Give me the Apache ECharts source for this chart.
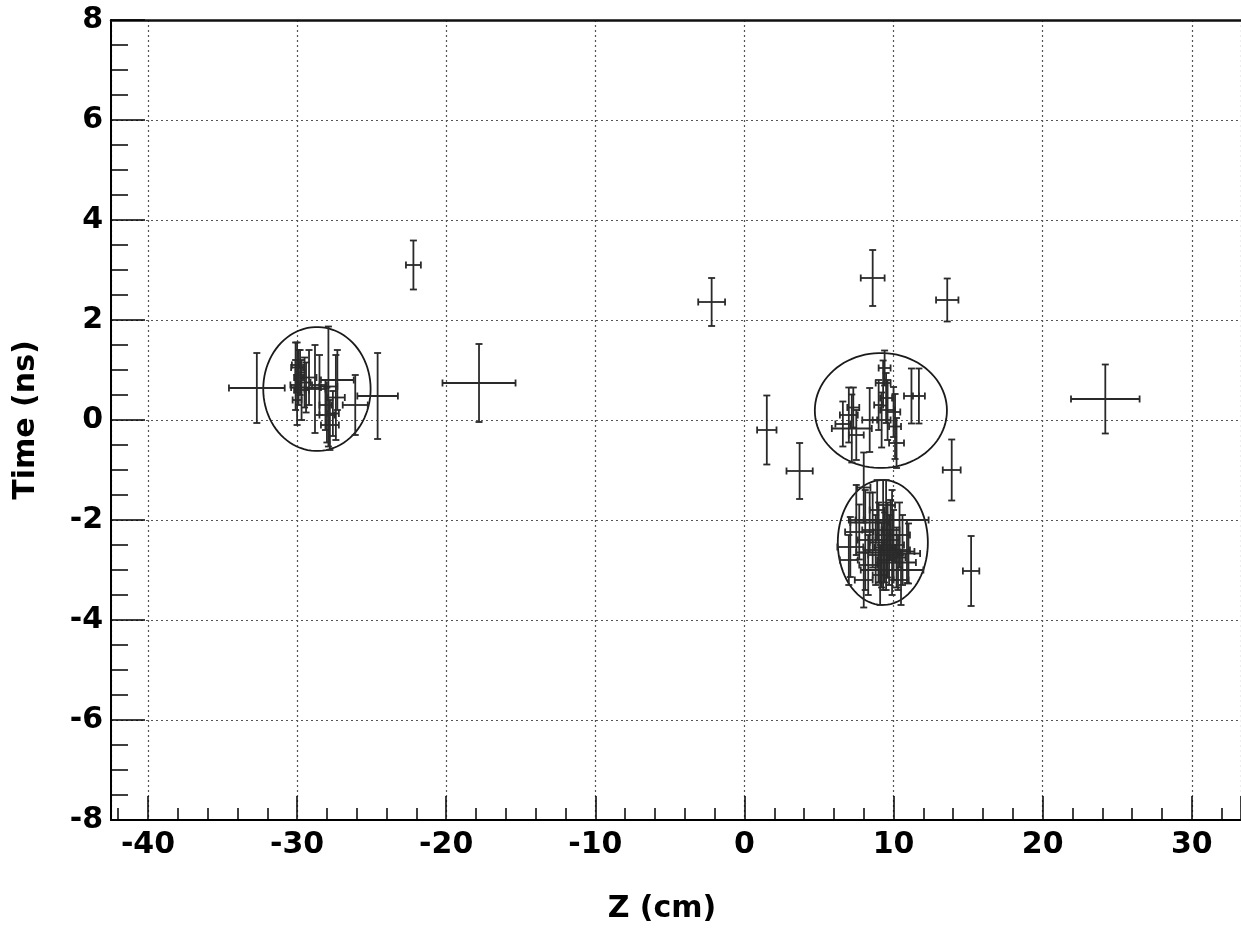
<!doctype html>
<html>
    <head>
        <meta charset="utf-8">
        <title>Time vs Z</title>
        <style>
            html, body { margin: 0; padding: 0; background: #fff; }
            #main { width: 1241px; height: 939px; }
        </style>
    </head>
    <body>
        <div id="main"></div>
        <script src="https://cdn.jsdelivr.net/npm/echarts@6/dist/echarts.min.js"></script>
        <script>
            // each point: [z, time, zErr, timeErr]
            var isolated = [
                [-22.2, 3.1, 0.5, 0.49],
                [-17.8, 0.74, 2.45, 0.78],
                [-32.7, 0.64, 1.87, 0.7],
                [-24.6, 0.48, 1.36, 0.86],
                [-2.2, 2.36, 0.9, 0.48],
                [8.6, 2.84, 0.8, 0.56],
                [13.6, 2.4, 0.75, 0.43],
                [24.2, 0.42, 2.3, 0.69],
                [1.5, -0.2, 0.65, 0.69],
                [3.7, -1.02, 0.88, 0.56],
                [13.9, -1.0, 0.6, 0.61],
                [15.2, -3.02, 0.55, 0.7],
                [8.0, -1.35, 0.45, 0.7]
            ];
            var clusterLeft = [
                [-30.0, 1.05, 0.4, 0.5],
                [-29.9, 0.85, 0.3, 0.55],
                [-30.1, 0.7, 0.35, 0.5],
                [-29.8, 0.95, 0.3, 0.45],
                [-30.0, 0.4, 0.3, 0.5],
                [-29.7, 0.6, 0.5, 0.6],
                [-29.5, 0.75, 0.4, 0.5],
                [-29.2, 0.85, 0.5, 0.55],
                [-28.8, 0.62, 0.7, 0.88],
                [-28.5, 0.7, 0.5, 0.6],
                [-27.9, 0.67, 0.6, 1.2],
                [-27.3, 0.8, 1.1, 0.6],
                [-27.4, 0.45, 0.6, 0.85],
                [-26.1, 0.3, 0.84, 0.6],
                [-28.1, 0.3, 0.4, 0.5],
                [-28.0, 0.1, 0.5, 0.55],
                [-27.8, -0.1, 0.6, 0.5],
                [-27.6, 0.13, 0.4, 0.45],
                [-30.1, 1.1, 0.25, 0.45],
                [-29.4, 0.65, 1.0, 0.5]
            ];
            var clusterUpper = [
                [6.6, -0.08, 0.5, 0.45],
                [7.0, 0.1, 0.6, 0.55],
                [7.2, -0.17, 1.34, 0.68],
                [7.3, 0.25, 0.4, 0.4],
                [7.5, -0.3, 0.5, 0.5],
                [8.4, 0.0, 0.5, 0.64],
                [9.4, 1.04, 0.4, 0.35],
                [9.3, 0.74, 0.5, 0.45],
                [9.5, 0.44, 0.4, 0.5],
                [9.2, 0.0, 0.6, 0.55],
                [9.6, 0.2, 0.5, 0.6],
                [10.1, -0.13, 0.4, 0.65],
                [10.0, 0.16, 0.45, 0.5],
                [10.2, -0.46, 0.5, 0.5],
                [11.2, 0.48, 0.5, 0.55],
                [11.7, 0.48, 0.4, 0.55],
                [9.0, 0.3, 0.3, 0.5]
            ];
            var clusterLower = [
                [7.1, -2.54, 0.87, 0.6],
                [7.7, -2.24, 0.95, 0.55],
                [7.5, -2.0, 0.5, 0.7],
                [8.1, -2.4, 0.5, 1.0],
                [8.3, -2.9, 0.6, 0.6],
                [8.6, -2.2, 0.7, 0.75],
                [8.8, -2.6, 0.8, 0.7],
                [9.0, -2.45, 0.6, 0.8],
                [9.2, -2.7, 0.9, 0.65],
                [9.3, -2.3, 0.5, 1.1],
                [9.4, -2.55, 0.7, 0.7],
                [9.5, -2.8, 0.6, 0.6],
                [9.6, -2.4, 0.8, 0.75],
                [9.7, -2.6, 0.5, 0.7],
                [9.8, -2.2, 0.6, 0.6],
                [9.9, -2.0, 2.45, 0.6],
                [9.9, -3.0, 2.1, 0.5],
                [10.0, -2.5, 0.7, 0.7],
                [10.2, -2.75, 0.6, 0.6],
                [10.4, -2.3, 0.7, 0.65],
                [10.6, -2.6, 0.5, 0.7],
                [10.9, -2.63, 0.5, 0.63],
                [11.0, -2.67, 0.78, 0.6],
                [8.0, -3.2, 0.6, 0.55],
                [9.1, -3.1, 0.5, 0.6],
                [10.5, -3.2, 0.5, 0.5],
                [8.9, -1.8, 0.5, 0.6],
                [9.5, -1.7, 0.6, 0.5],
                [7.0, -2.8, 0.6, 0.5],
                [8.4, -2.05, 1.3, 0.6],
                [10.3, -2.85, 1.2, 0.55],
                [9.0, -2.65, 1.5, 0.6]
            ];
            // ellipses: [centerZ, centerTime, radiusZ, radiusTime]
            var ellipses = [
                [-28.67, 0.62, 3.6, 1.24],
                [9.15, 0.19, 4.43, 1.15],
                [9.28, -2.45, 3.02, 1.25]
            ];

            var zRange = [-42.48, 33.3];
            var tRange = [-8, 8];

            var points = isolated.concat(clusterLeft, clusterUpper, clusterLower);
            var font = 'DejaVu Sans';

            function renderErrorBar(params, api) {
                var x = api.value(0), y = api.value(1);
                var ex = api.value(2), ey = api.value(3);
                var c = api.coord([x, y]);
                var l = api.coord([x - ex, y]);
                var r = api.coord([x + ex, y]);
                var t = api.coord([x, y + ey]);
                var b = api.coord([x, y - ey]);
                var cap = 3.5;
                var style = { stroke: '#2a2a2a', lineWidth: 1.8 };
                return {
                    type: 'group',
                    children: [
                        { type: 'line', shape: { x1: l[0], y1: c[1], x2: r[0], y2: c[1] }, style: style },
                        { type: 'line', shape: { x1: c[0], y1: t[1], x2: c[0], y2: b[1] }, style: style },
                        { type: 'line', shape: { x1: l[0], y1: c[1] - cap, x2: l[0], y2: c[1] + cap }, style: style },
                        { type: 'line', shape: { x1: r[0], y1: c[1] - cap, x2: r[0], y2: c[1] + cap }, style: style },
                        { type: 'line', shape: { x1: c[0] - cap, y1: t[1], x2: c[0] + cap, y2: t[1] }, style: style },
                        { type: 'line', shape: { x1: c[0] - cap, y1: b[1], x2: c[0] + cap, y2: b[1] }, style: style }
                    ]
                };
            }

            function renderEllipse(params, api) {
                var cx = api.value(0), cy = api.value(1);
                var rx = api.value(2), ry = api.value(3);
                var pts = [];
                for (var i = 0; i < 90; i++) {
                    var a = i / 90 * Math.PI * 2;
                    pts.push(api.coord([cx + rx * Math.cos(a), cy + ry * Math.sin(a)]));
                }
                return {
                    type: 'polygon',
                    shape: { points: pts },
                    style: { fill: 'none', stroke: '#1a1a1a', lineWidth: 1.8 }
                };
            }

            var chart = echarts.init(document.getElementById('main'));
            chart.setOption({
                animation: false,
                backgroundColor: '#fff',
                grid: { left: 111, top: 20, right: 0, bottom: 119 },
                xAxis: [{
                    type: 'value',
                    min: zRange[0],
                    max: zRange[1],
                    splitNumber: 8,
                    name: 'Z (cm)',
                    nameLocation: 'middle',
                    nameGap: 74,
                    nameTextStyle: { fontFamily: font, fontWeight: 'bold', fontSize: 30, color: '#000', padding: [0, 28, 0, 0] },
                    axisLine: { show: true, onZero: false, lineStyle: { color: '#000', width: 2 } },
                    axisTick: { show: true, inside: true, length: 24, lineStyle: { color: '#000', width: 1.5 } },
                    minorTick: { show: true, splitNumber: 5, length: 12, lineStyle: { color: '#000', width: 1.5 } },
                    axisLabel: {
                        showMinLabel: false, showMaxLabel: false, margin: 10,
                        fontFamily: font, fontWeight: 'bold', fontSize: 30, color: '#000'
                    },
                    splitLine: { show: true, lineStyle: { color: '#555', width: 1.2, type: [2, 3] } }
                }, {
                    type: 'value',
                    position: 'top',
                    min: zRange[0],
                    max: zRange[1],
                    axisLine: { show: true, onZero: false, lineStyle: { color: '#111', width: 2.5 } },
                    axisTick: { show: false },
                    axisLabel: { show: false },
                    splitLine: { show: false }
                }],
                yAxis: {
                    type: 'value',
                    min: tRange[0],
                    max: tRange[1],
                    interval: 2,
                    name: 'Time (ns)',
                    nameLocation: 'middle',
                    nameGap: 70,
                    nameTextStyle: { fontFamily: font, fontWeight: 'bold', fontSize: 30, color: '#000' },
                    axisLine: { show: true, onZero: false, lineStyle: { color: '#000', width: 2 } },
                    axisTick: { show: true, inside: true, length: 34, lineStyle: { color: '#000', width: 1.5 } },
                    minorTick: { show: true, splitNumber: 4, length: 17, lineStyle: { color: '#000', width: 1.5 } },
                    axisLabel: { margin: 8, fontFamily: font, fontWeight: 'bold', fontSize: 30, color: '#000' },
                    splitLine: { show: true, lineStyle: { color: '#555', width: 1.2, type: [2, 3] } }
                },
                series: [{
                    type: 'custom',
                    renderItem: renderEllipse,
                    encode: { x: 0, y: 1 },
                    data: ellipses,
                    silent: true
                }, {
                    type: 'custom',
                    renderItem: renderErrorBar,
                    encode: { x: 0, y: 1 },
                    data: points,
                    silent: true
                }]
            });

            window.addEventListener('resize', function () {
                chart.resize();
            });
        </script>
    </body>
</html>
